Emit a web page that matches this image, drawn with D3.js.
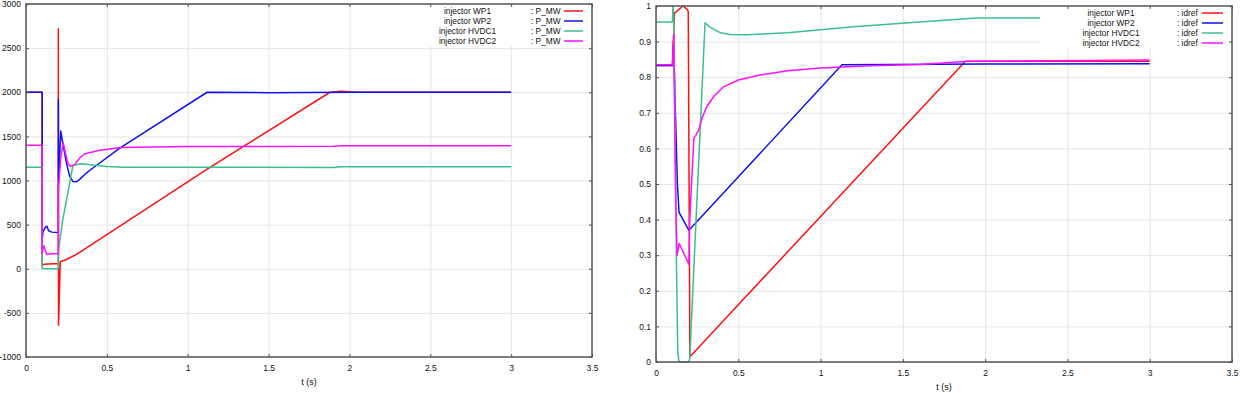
<!DOCTYPE html>
<html>
<head>
  <meta charset="utf-8">
  <title>injector P_MW / idref</title>
  <script src="https://cdnjs.cloudflare.com/ajax/libs/d3/7.8.5/d3.min.js"></script>
</head>
<style>
  body { margin: 0; background: #fff; }
  svg { display: block; }
  text { font-family: "Liberation Sans", Arial, sans-serif; fill: #111; }
  .grid line { stroke: #e6e6e6; stroke-width: 1; }
  .grid path { display: none; }
</style>
<body>
<script type="text/javascript">
  // ---- data ----
  const seriesNames = ['injector WP1', 'injector WP2', 'injector HVDC1', 'injector HVDC2'];
  const seriesColors = ['#ff1010', '#1010f0', '#3cc08a', '#ff10ff'];

  const xTicks = [0, 0.5, 1, 1.5, 2, 2.5, 3, 3.5];
  const pTicks = [-1000, -500, 0, 500, 1000, 1500, 2000, 2500, 3000];
  const iTicks = [0, 0.1, 0.2, 0.3, 0.4, 0.5, 0.6, 0.7, 0.8, 0.9, 1];

  // left panel : P_MW  [t (s), MW]
  const pWP1 = [[0,2000],[0.1,2000],[0.1,40],[0.11,50],[0.2,60],[0.2,2720],[0.201,-640],[0.212,80],
    [0.25,105],[0.31,160],[1.13,1140],[1.88,2000],[1.95,2010],[2.05,2000],[3,2000]];
  const pWP2 = [[0,2000],[0.1,2000],[0.1,330],[0.105,420],[0.12,470],[0.13,480],[0.14,430],[0.16,415],
    [0.2,410],[0.2,1920],[0.202,1010],[0.215,1560],[0.225,1450],[0.25,1200],[0.27,1050],[0.29,990],
    [0.31,985],[0.33,1010],[0.37,1080],[0.42,1150],[0.58,1368],[1.12,2000],[1.5,1995],[2,2000],[3,2000]];
  const pHVDC1 = [[0,1150],[0.1,1150],[0.1,0],[0.2,0],[0.2,200],[0.227,550],[0.26,870],[0.29,1170],
    [0.34,1190],[0.4,1178],[0.5,1160],[0.6,1150],[1.9,1148],[1.95,1155],[3,1155]];
  const pHVDC2 = [[0,1400],[0.1,1400],[0.1,170],[0.105,230],[0.11,260],[0.12,200],[0.13,160],[0.15,170],
    [0.2,170],[0.2,900],[0.215,1250],[0.23,1430],[0.245,1300],[0.26,1190],[0.275,1160],[0.3,1180],
    [0.33,1250],[0.36,1300],[0.45,1340],[0.58,1375],[1,1385],[1.9,1388],[1.95,1395],[3,1395]];

  // right panel : idref  [t (s), p.u.]
  const iWP1 = [[0,0.833],[0.1,0.833],[0.112,0.98],[0.165,1.0],[0.19,0.99],[0.196,0.985],[0.206,0.015],
    [1.88,0.845],[3,0.845]];
  const iWP2 = [[0,0.833],[0.1,0.833],[0.107,0.9],[0.115,0.75],[0.13,0.5],[0.14,0.42],[0.2,0.37],
    [1.13,0.835],[2,0.837],[3,0.838]];
  const iHVDC1 = [[0,0.955],[0.1,0.955],[0.103,1.0],[0.107,0.97],[0.115,0.7],[0.125,0.25],[0.132,0.03],
    [0.14,0],[0.2,0],[0.205,0.01],[0.298,0.953],[0.33,0.94],[0.39,0.925],[0.45,0.92],[0.55,0.919],
    [0.8,0.925],[1.2,0.942],[1.6,0.955],[1.95,0.966],[3,0.967]];
  const iHVDC2 = [[0,0.835],[0.1,0.835],[0.108,0.92],[0.113,0.7],[0.12,0.45],[0.128,0.3],[0.141,0.333],
    [0.2,0.274],[0.205,0.4],[0.23,0.628],[0.24,0.635],[0.26,0.652],[0.28,0.685],[0.308,0.717],
    [0.35,0.745],[0.409,0.773],[0.5,0.792],[0.632,0.806],[0.8,0.818],[1,0.826],[1.3,0.832],
    [1.6,0.836],[1.9,0.845],[3,0.848]];

  const panels = [
    { id: 'p', left: 26, right: 592, top: 4, bottom: 357, yDomain: [-1000, 3000], yTicks: pTicks,
      unit: ': P_MW', series: [pWP1, pWP2, pHVDC1, pHVDC2],
      legend: { x0: 400, nameX: 467.5, unitX: 531, lineX: [564, 583], row0: 11 } },
    { id: 'i', left: 656, right: 1232, top: 6, bottom: 362, yDomain: [0, 1], yTicks: iTicks,
      unit: ': idref', series: [iWP1, iWP2, iHVDC1, iHVDC2],
      legend: { x0: 1040, nameX: 1111, unitX: 1177, lineX: [1202, 1223], row0: 13 } }
  ];

  const svg = d3.select('body').append('svg').attr('width', 1240).attr('height', 393);

  panels.forEach(p => {
    const g = svg.append('g');
    const w = p.right - p.left, h = p.bottom - p.top;
    const x = d3.scaleLinear().domain([0, 3.5]).range([p.left, p.right]);
    const y = d3.scaleLinear().domain(p.yDomain).range([p.bottom, p.top]);

    // grid
    g.append('g').attr('class', 'grid').attr('transform', `translate(0,${p.bottom})`)
      .call(d3.axisBottom(x).tickValues(xTicks).tickSize(-h).tickFormat(''));
    g.append('g').attr('class', 'grid').attr('transform', `translate(${p.left},0)`)
      .call(d3.axisLeft(y).tickValues(p.yTicks).tickSize(-w).tickFormat(''));

    // curves
    g.append('clipPath').attr('id', 'clip-' + p.id).append('rect')
      .attr('x', p.left).attr('y', p.top - 1).attr('width', w).attr('height', h + 2);
    const line = d3.line().x(d => x(d[0])).y(d => y(d[1]));
    g.append('g').attr('clip-path', `url(#clip-${p.id})`)
      .selectAll('path').data(p.series).join('path')
      .attr('d', line)
      .attr('fill', 'none')
      .attr('stroke', (d, i) => seriesColors[i])
      .attr('stroke-width', 1.5)
      .attr('stroke-linejoin', 'round');

    // legend (white box over the plot)
    const lg = p.legend;
    g.append('rect').attr('x', lg.x0).attr('y', p.top).attr('width', p.right - lg.x0).attr('height', 42)
      .attr('fill', '#fff');
    const rows = g.append('g').selectAll('g').data(seriesNames).join('g')
      .attr('transform', (d, i) => `translate(0,${lg.row0 + i * 10})`);
    rows.append('text').attr('x', lg.nameX).attr('dy', '0.35em').attr('text-anchor', 'middle')
      .style('font-size', '8.3px').text(d => d);
    rows.append('text').attr('x', lg.unitX).attr('dy', '0.35em')
      .style('font-size', '8.3px').text(p.unit);
    rows.append('line').attr('x1', lg.lineX[0]).attr('x2', lg.lineX[1])
      .attr('stroke', (d, i) => seriesColors[i]).attr('stroke-width', 1.5);

    // frame
    g.append('rect').attr('x', p.left).attr('y', p.top).attr('width', w).attr('height', h)
      .attr('fill', 'none').attr('stroke', '#555').attr('stroke-width', 1.5);

    // small inner ticks on every side
    const tickStyle = sel => { sel.select('.domain').remove(); sel.selectAll('line').attr('stroke', '#555'); };
    g.append('g').attr('transform', `translate(0,${p.bottom})`)
      .call(d3.axisBottom(x).tickValues(xTicks).tickSize(-3).tickFormat('')).call(tickStyle);
    g.append('g').attr('transform', `translate(0,${p.top})`)
      .call(d3.axisTop(x).tickValues(xTicks).tickSize(-3).tickFormat('')).call(tickStyle);
    g.append('g').attr('transform', `translate(${p.left},0)`)
      .call(d3.axisLeft(y).tickValues(p.yTicks).tickSize(-3).tickFormat('')).call(tickStyle);
    g.append('g').attr('transform', `translate(${p.right},0)`)
      .call(d3.axisRight(y).tickValues(p.yTicks).tickSize(-3).tickFormat('')).call(tickStyle);

    // tick labels
    const xa = g.append('g').attr('transform', `translate(0,${p.bottom})`)
      .call(d3.axisBottom(x).tickValues(xTicks).tickSize(0).tickPadding(8).tickFormat(d => String(d)));
    xa.select('.domain').remove();
    xa.selectAll('text').style('font-size', '8.5px').attr('fill', '#111');
    const ya = g.append('g').attr('transform', `translate(${p.left},0)`)
      .call(d3.axisLeft(y).tickValues(p.yTicks).tickSize(0).tickPadding(5).tickFormat(d => String(d)));
    ya.select('.domain').remove();
    ya.selectAll('text').style('font-size', '8.5px').attr('fill', '#111');

    // axis title
    g.append('text').attr('x', (p.left + p.right) / 2).attr('y', p.bottom + 28)
      .attr('text-anchor', 'middle').style('font-size', '9px').text('t (s)');
  });
</script>
</body>
</html>
